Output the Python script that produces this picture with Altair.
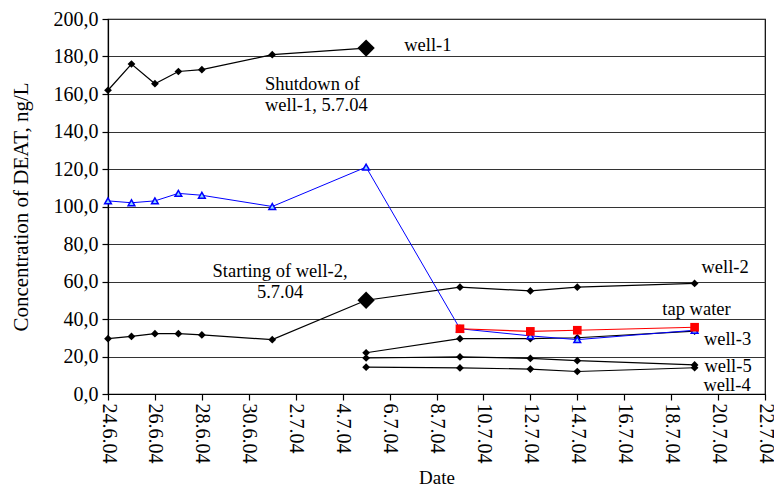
import altair as alt
import pandas as pd

# ---- data ----
dates_early = ["2004-06-24", "2004-06-25", "2004-06-26", "2004-06-27", "2004-06-28", "2004-07-01", "2004-07-05"]
dates_late = ["2004-07-09", "2004-07-12", "2004-07-14", "2004-07-19"]

well1 = [162, 176, 165.5, 172, 173, 181, 184.5]
well2 = [29.5, 30.7, 32.2, 32.2, 31.5, 29, 50, 57, 55, 57, 59]
blue_series = [103, 102, 103, 107, 106, 100, 121, 34.8, 31, 29, 34]
tap_water = [34.8, 33.4, 34, 35.6]
well3 = [22, 29.5, 29.5, 30, 33.5]
well5 = [19.2, 19.8, 19, 17.8, 15.5]
well4 = [14.3, 13.9, 13.3, 12, 14]

tick_dates = ["2004-06-24", "2004-06-26", "2004-06-28", "2004-06-30", "2004-07-02", "2004-07-04",
              "2004-07-06", "2004-07-08", "2004-07-10", "2004-07-12", "2004-07-14", "2004-07-16",
              "2004-07-18", "2004-07-20", "2004-07-22"]
y_ticks = [0, 20, 40, 60, 80, 100, 120, 140, 160, 180, 200]

ann_text = ["well-1", "Shutdown of", "well-1, 5.7.04", "well-2", "tap water", "well-3", "well-5", "well-4"]
ann_date = ["2004-07-06T15:00:00Z", "2004-06-30T16:30:00Z", "2004-06-30T16:30:00Z", "2004-07-19T07:00:00Z",
            "2004-07-17T15:00:00Z", "2004-07-19T09:30:00Z", "2004-07-19T10:00:00Z", "2004-07-19T09:00:00Z"]
ann_value = [186.3, 165.5, 154, 68, 45.5, 29.5, 15.2, 5.0]

ann2_text = ["Starting of well-2,", "5.7.04"]
ann2_date = ["2004-07-01T08:00:00Z", "2004-07-01T08:00:00Z"]
ann2_value = [65.8, 54.6]


def iso(s):
    return s + "T00:00:00Z"


# ---- build tables ----
rows = []
for d, v in zip(dates_early, well1):
    rows.append(("well-1", iso(d), v))
for d, v in zip(dates_early + dates_late, well2):
    rows.append(("well-2", iso(d), v))
for d, v in zip(["2004-07-05"] + dates_late, well3):
    rows.append(("well-3", iso(d), v))
for d, v in zip(["2004-07-05"] + dates_late, well5):
    rows.append(("well-5", iso(d), v))
for d, v in zip(["2004-07-05"] + dates_late, well4):
    rows.append(("well-4", iso(d), v))
black = pd.DataFrame(rows, columns=["series", "date", "value"])
blue = pd.DataFrame({"date": [iso(d) for d in dates_early + dates_late], "value": blue_series})
red = pd.DataFrame({"date": [iso(d) for d in dates_late], "value": tap_water})
ann = pd.DataFrame({"text": ann_text, "date": ann_date, "value": ann_value})
ann2 = pd.DataFrame({"text": ann2_text, "date": ann2_date, "value": ann2_value})

FONT = "Liberation Serif"


def dt(s):
    y, m, d = s.split("-")
    return alt.DateTime(year=int(y), month=int(m), date=int(d), utc=True)


xscale = alt.Scale(type="utc", domain=[dt("2004-06-24"), dt("2004-07-22")])
yscale = alt.Scale(domain=[0, 200], nice=False)

X = alt.X("date:T", scale=xscale, title="Date",
          axis=alt.Axis(values=[dt(s) for s in tick_dates],
                        labelExpr="utcFormat(datum.value, '%-d.%-m.%y')",
                        labelAngle=90, grid=False, tickSize=6, labelPadding=3,
                        labelOverlap=False, titlePadding=5, titleFontSize=19))
Y = alt.Y("value:Q", scale=yscale, title="Concentration of DEAT, ng/L",
          axis=alt.Axis(values=y_ticks, tickCount=11,
                        labelExpr="replace(format(datum.value, '.1f'), '.', ',')",
                        grid=True, tickSize=6, labelPadding=4, labelOverlap=False,
                        titlePadding=22))

black_line = alt.Chart(black).mark_line(color="black", strokeWidth=1.2).encode(
    x=X, y=Y, detail="series:N")
black_pts = alt.Chart(black).mark_point(shape="diamond", filled=True, color="black", size=60, opacity=1).encode(
    x=X, y=Y)
big_pts = alt.Chart(black).transform_filter(
    "(datum.series == 'well-1' || datum.series == 'well-2') && utcdate(datum.date) == 5 && utcmonth(datum.date) == 6"
).mark_point(shape="diamond", filled=True, color="black", size=300, opacity=1).encode(
    x=X, y=Y)

blue_line = alt.Chart(blue).mark_line(color="#0000ff", strokeWidth=1).encode(x=X, y=Y)
blue_pts = alt.Chart(blue).mark_point(shape="triangle-up", filled=True, fill="#8fd8ff", stroke="#0000ff",
                                      strokeWidth=1.5, size=45, opacity=1).encode(x=X, y=Y)
red_line = alt.Chart(red).mark_line(color="#ff0000", strokeWidth=1.2).encode(x=X, y=Y)
red_pts = alt.Chart(red).mark_point(shape="square", filled=True, color="#ff0000", size=75, opacity=1).encode(
    x=X, y=Y)

ann_layer = alt.Chart(ann).mark_text(align="left", baseline="middle", font=FONT, fontSize=18.5, color="black").encode(
    x=X, y=Y, text="text:N")
ann2_layer = alt.Chart(ann2).mark_text(align="center", baseline="middle", font=FONT, fontSize=18.5, color="black").encode(
    x=X, y=Y, text="text:N")

chart = alt.layer(black_line, black_pts, big_pts, blue_line, blue_pts, red_line, red_pts,
                  ann_layer, ann2_layer).properties(
    width=657, height=375,
    padding={"left": 100, "top": 11, "right": 9, "bottom": 95},
    autosize=alt.AutoSizeParams(type="none"),
    background="white",
).configure_view(stroke="black", strokeWidth=1.2).configure_axis(
    labelFont=FONT, titleFont=FONT, labelFontSize=20, titleFontSize=21,
    labelColor="black", titleColor="black", titleFontWeight="normal",
    domainColor="black", tickColor="black", gridColor="#333333", gridWidth=1.2,
    domainWidth=1.2, tickWidth=1.2,
)

chart.save("out.html", embed_options={"renderer": "svg", "actions": False})
